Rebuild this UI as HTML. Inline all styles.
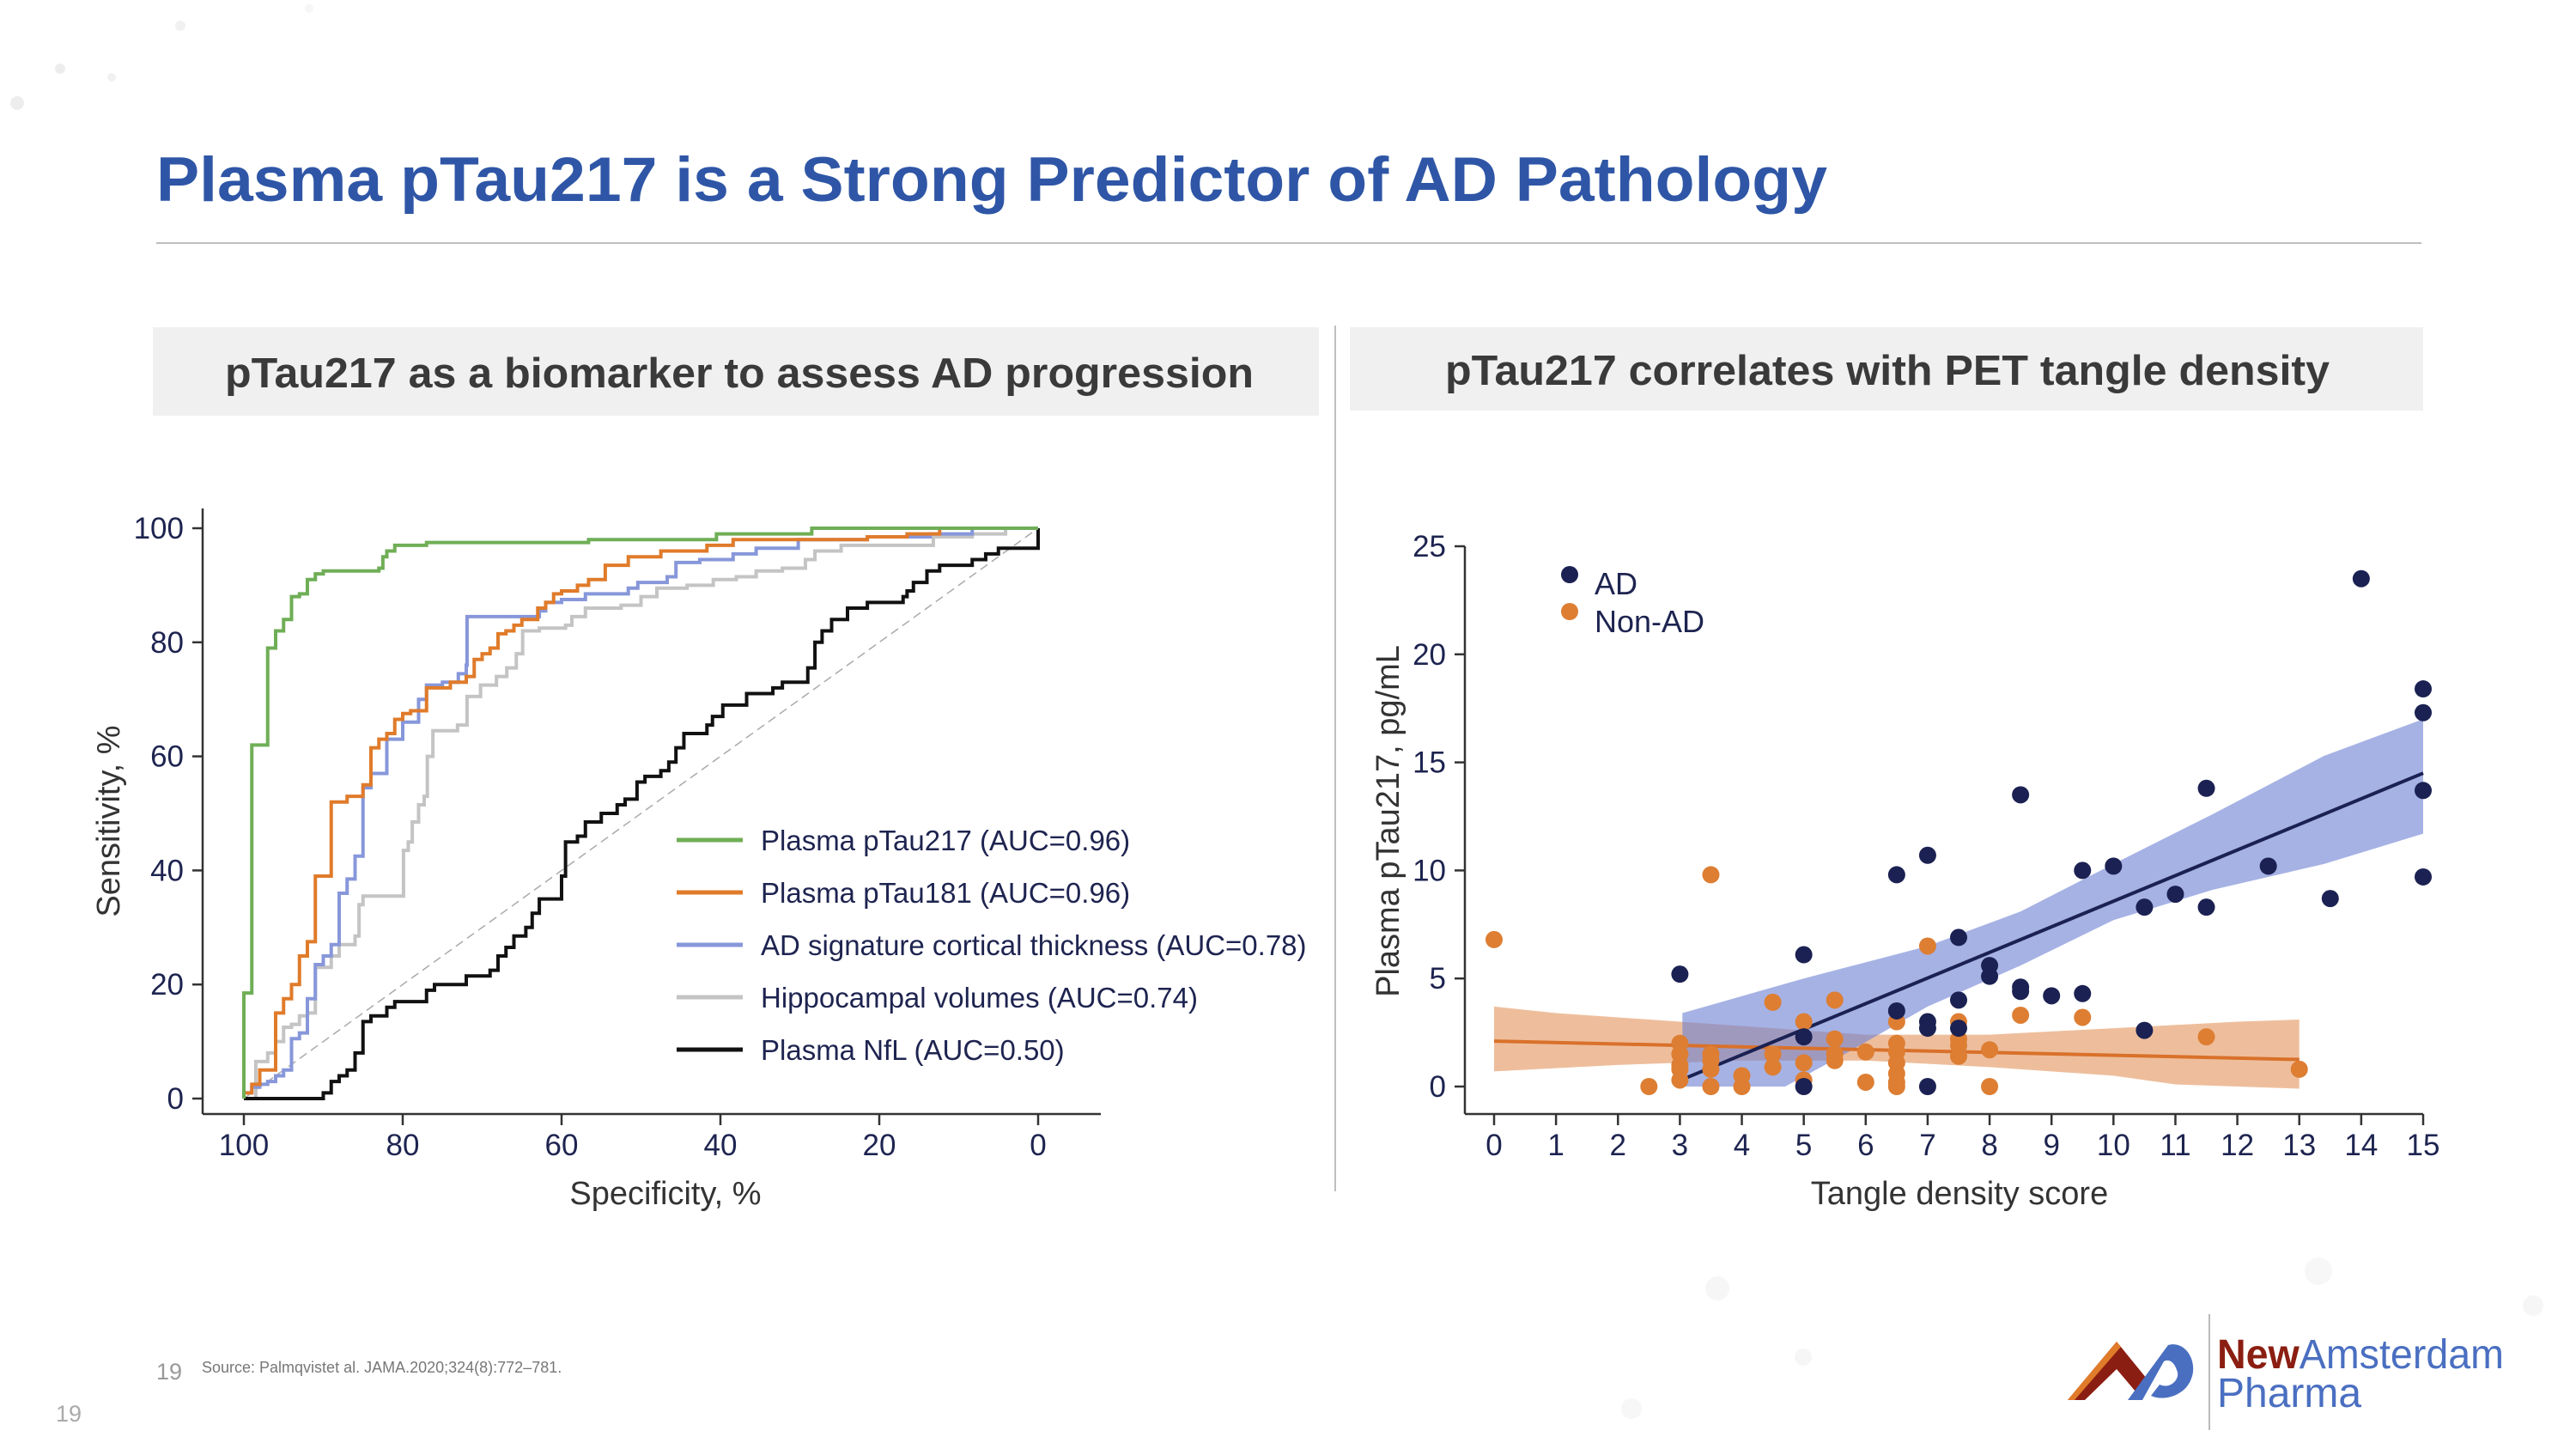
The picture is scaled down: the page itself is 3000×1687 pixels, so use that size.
<!DOCTYPE html>
<html><head><meta charset="utf-8"><style>
html,body{margin:0;padding:0;background:#fff;}
svg{display:block;font-family:"Liberation Sans",sans-serif;}
</style></head><body>
<svg id="root" width="3000" height="1687" viewBox="0 0 3000 1687" xmlns="http://www.w3.org/2000/svg">
<rect x="0" y="0" width="3000" height="1687" fill="#ffffff"/>
<g opacity="0.5">
<circle cx="20" cy="120" r="8" fill="#ddd"/><circle cx="70" cy="80" r="6" fill="#ddd"/><circle cx="130" cy="90" r="5" fill="#e4e4e4"/><circle cx="210" cy="30" r="6" fill="#e4e4e4"/><circle cx="360" cy="10" r="5" fill="#eee"/>
<circle cx="2000" cy="1500" r="14" fill="#eee"/><circle cx="2100" cy="1580" r="10" fill="#eee"/><circle cx="1900" cy="1640" r="12" fill="#efefef"/><circle cx="2700" cy="1480" r="16" fill="#f0f0f0"/><circle cx="2950" cy="1520" r="12" fill="#eee"/>
</g>
<text x="182" y="234" font-size="73" font-weight="bold" fill="#2F56A6" textLength="1946" lengthAdjust="spacingAndGlyphs">Plasma pTau217 is a Strong Predictor of AD Pathology</text>
<line x1="182" y1="283" x2="2820" y2="283" stroke="#bfbfbf" stroke-width="2"/>
<rect x="178" y="381" width="1358" height="103" fill="#F0F0F0"/>
<text x="861" y="451" font-size="49" font-weight="bold" fill="#3a3a3a" text-anchor="middle" textLength="1198" lengthAdjust="spacingAndGlyphs">pTau217 as a biomarker to assess AD progression</text>
<rect x="1572" y="381" width="1250" height="97" fill="#F0F0F0"/>
<text x="2198" y="448" font-size="49" font-weight="bold" fill="#3a3a3a" text-anchor="middle" textLength="1030" lengthAdjust="spacingAndGlyphs">pTau217 correlates with PET tangle density</text>
<line x1="1555" y1="379" x2="1555" y2="1387" stroke="#bfbfbf" stroke-width="2"/>
<g id="roc"></g>
<g id="sc"></g>
<text x="182" y="1606" font-size="27" fill="#999">19</text>
<text x="235" y="1598" font-size="18" fill="#777">Source: Palmqvistet al. JAMA.2020;324(8):772–781.</text>
<text x="65" y="1655" font-size="27" fill="#aaa">19</text>
<g>
<polygon points="2408,1630 2465,1562 2500,1605 2487,1620 2465,1594 2428,1630" fill="#8B1E12"/>
<polygon points="2408,1630 2465,1562 2470,1568 2416,1630" fill="#E07B2A"/>
<path d="M2478,1630 L2525,1566 C2545,1560 2560,1585 2552,1605 C2545,1625 2520,1632 2505,1625 L2515,1612 C2528,1618 2540,1605 2535,1595 C2532,1585 2525,1582 2520,1585 L2495,1630 Z" fill="#4A6FC1"/>
<line x1="2573" y1="1530" x2="2573" y2="1665" stroke="#bbb" stroke-width="2"/>
<text x="2582" y="1593" font-size="48" font-weight="bold" textLength="334" lengthAdjust="spacingAndGlyphs"><tspan fill="#8B1E12">New</tspan><tspan fill="#4A6FC1" font-weight="normal">Amsterdam</tspan></text>
<text x="2582" y="1638" font-size="48" fill="#4A6FC1">Pharma</text>
</g>
</svg>
<script>
const NS="http://www.w3.org/2000/svg";
// ---------- ROC data ----------
const rocNames=["Plasma pTau217 (AUC=0.96)","Plasma pTau181 (AUC=0.96)","AD signature cortical thickness (AUC=0.78)","Hippocampal volumes (AUC=0.74)","Plasma NfL (AUC=0.50)"];
const rocColors=["#6FAE56","#E07B2A","#8797DA","#C4C4C4","#111111"];
const pTau217Spec=[100,100,99,97,96,95,94,93,92,91,90,83,82.5,82,81,77,56.6,40.5,28.5,0];
const pTau217Sens=[0,18.5,62,79,82,84,88,88.5,91,92,92.5,93,95,96,97,97.5,98,99,100,100];
const pTau181Spec=[100,99,98,96,95,94,93,92,91,89,87,85,84,83,82,81,80,79,77,74,72,71,70,69,68,67,66,65,63,62,61,60,58,56.6,54.5,51.6,47.5,41.7,38.4,21.5,16.5,12.4,0];
const pTau181Sens=[1,2.5,5,15,17.5,20,25,27.5,39,52,53,55,61.5,63,64,66.5,67.5,68,72,73,74,77,78,79,81.5,82,83,84,86,87,88.5,89,90,91,93.5,95,96,97,98,98.5,99,100,100];
const cortSpec=[100,99,98,97,96,95,94,93,92,91,90,89,88,87,86,85,84,82,80,78,77,75,73,72,71.9,62.8,62,60,57,51.6,50.4,46.7,45.6,42.6,38.4,35.5,30.2,21.5,13.6,8.3,0];
const cortSens=[1,2,2.5,3,4,5,10.5,11.5,17.5,23.5,25,27,36,38.5,42.5,54.5,57,63,66,70,72.5,73,74.5,76,84.5,85.5,87,87.5,88.5,89.5,90.5,91.5,94,94.5,95.5,96.5,98,98.5,99,100,100];
const hippSpec=[100,98.5,97,96,95,94,93,92,91,89,88,86,85.5,85,79.9,79.3,78.8,78,77.3,76.9,76.2,73.1,71.9,70.2,68.2,66.9,65.7,64.9,62.8,59.5,58.7,57,52.5,50,48,44.2,40.9,38,35.5,32.2,29.3,28.1,24.8,13.2,8.3,4.1,0];
const hippSens=[0,6.5,8,10,12.5,13,14.5,15,23,25,27,28.5,34,35.5,43.5,45,48.5,51.5,53,60,64.5,65.5,70.5,72.5,74,75.5,78,82,82.5,83,84.5,86,86.5,88,89.5,90,91,91.5,92.5,93,94.5,96,97,98.5,99,100,100];
const nflSpec=[100,91,90,89,88,87,86,85,84,82,81,77,76,72,69,68,67,66,64.5,63.7,62.8,60,59.5,58,57,55,53,52,50.5,49.5,47.5,46.5,45.6,44.6,41.7,41,39.7,36.7,33.4,32.2,29,28.1,27.2,26,24,21.5,17,16.5,15.7,14,12.4,8.3,6.6,5,3,0,0];
const nflSens=[0,0,1,3,4,5,8,13.5,14.5,16,17,19,20,21.5,22.5,25,26.5,28.5,30,32.5,35,39,45,46,48.5,50,51.5,52.5,55.5,56.5,57.5,59,61.5,64,65.5,67,69,71,72,73,75.5,80,82,84,86,87,88,89,90.5,92.5,93.5,94.5,95.5,96.5,96.5,98,100];
const rocX=[100,80,60,40,20,0];
const rocY=[0,20,40,60,80,100];

// ---------- Scatter data ----------
const adX=[3,5,5,5,6.5,6.5,7,7,7,7,7.5,7.5,7.5,8,8,8.5,8.5,8.5,9,9.5,9.5,10,10.5,10.5,11,11.5,11.5,12.5,13.5,14,15,15,15,15];
const adY=[5.2,6.1,2.3,0,9.8,3.5,10.7,3,2.7,0,6.9,4,2.7,5.6,5.1,13.5,4.6,4.4,4.2,10,4.3,10.2,8.3,2.6,8.9,13.8,8.3,10.2,8.7,23.5,18.4,17.3,13.7,9.7];
const nonX=[0,2.5,3,3,3,3,3,3.5,3.5,3.5,3.5,3.5,4,4,4.5,4.5,4.5,5,5,5,5.5,5.5,5.5,5.5,6,6,6.5,6.5,6.5,6.5,6.5,6.5,6.5,7,7.5,7.5,7.5,7.5,8,8,8.5,9.5,11.5,13];
const nonY=[6.8,0,2,1.5,1,0.8,0.3,9.8,1.5,1.2,0.8,0,0.5,0,3.9,1.5,0.9,3,1.1,0.3,4,2.2,1.5,1.2,1.6,0.2,3,2,1.6,1.1,0.6,0.2,0,6.5,3,2.2,1.9,1.4,1.7,0,3.3,3.2,2.3,0.8];
const adFitX=[3.1,15];
const adFitY=[0.4,14.5];
const adBandX=[3.04,5,7,8.5,10,11.6,13.4,15];
const adBandHi=[3.4,5,6.5,8.1,10.3,12.6,15.3,17];
const adBandLoX=[3.04,4.7,5.6,7,8.5,10,11.6,13.4,15];
const adBandLo=[0,0,1.4,3.7,5.6,7.7,9.1,10.3,11.7];
const nonFitX=[0,13];
const nonFitY=[2.1,1.25];
const nonBandX=[0,1,3,5,6,7,8,10,12,13];
const nonBandHi=[3.7,3.4,3,2.6,2.4,2.4,2.4,2.7,3,3.1];
const nonBandLoX=[0,2,4,6,8,10,11,13];
const nonBandLo=[0.7,1.0,1.2,1.2,0.9,0.5,0.1,-0.1];
const scX=[0,1,2,3,4,5,6,7,8,9,10,11,12,13,14,15];
const scY=[0,5,10,15,20,25];

function mk(tag,attrs,parent){const e=document.createElementNS(NS,tag);for(const k in attrs)e.setAttribute(k,attrs[k]);parent.appendChild(e);return e;}
const txtCol="#1E2450";

// ROC axes
const rx=s=>284+(100-s)/100*(1209-284);
const ry=v=>1279-v/100*(1279-615);
const roc=document.getElementById('roc');
let e;
e=mk('line',{x1:236,y1:592,x2:236,y2:1297,stroke:"#333","stroke-width":2.5},roc);


e=mk('line',{x1:236,y1:1297,x2:1282,y2:1297,stroke:"#333","stroke-width":2.5},roc);


rocY.forEach(v=>{
  mk('line',{x1:224,y1:ry(v),x2:236,y2:ry(v),stroke:"#333","stroke-width":2.5},roc);
  e=mk('text',{x:214,y:ry(v)+12,"font-size":35,fill:txtCol,"text-anchor":"end"},roc);e.textContent=v;
  
  
});
rocX.forEach(v=>{
  mk('line',{x1:rx(v),y1:1297,x2:rx(v),y2:1310,stroke:"#333","stroke-width":2.5},roc);
  e=mk('text',{x:rx(v),y:1345,"font-size":35,fill:txtCol,"text-anchor":"middle"},roc);e.textContent=v;
  
  
});
e=mk('text',{x:775,y:1402,"font-size":38,fill:"#333","text-anchor":"middle"},roc);e.textContent="Specificity, %";


e=mk('text',{x:0,y:0,"font-size":38,fill:"#333","text-anchor":"middle",transform:"translate(139,956) rotate(-90)"},roc);e.textContent="Sensitivity, %";


e=mk('line',{x1:rx(100),y1:ry(0),x2:rx(0),y2:ry(100),stroke:"#aaa","stroke-width":1.5,"stroke-dasharray":"10,6"},roc);


const rocSeries=[[pTau217Spec,pTau217Sens],[pTau181Spec,pTau181Sens],[cortSpec,cortSens],[hippSpec,hippSens],[nflSpec,nflSens]];
const rocSeriesNames=['roc-curve-ptau217','roc-curve-ptau181','roc-curve-cortical-thickness','roc-curve-hippocampal','roc-curve-nfl'];
[3,2,1,4,0].forEach(i=>{
  const [sx,sy]=rocSeries[i];
  let d="M"+rx(sx[0])+","+ry(sy[0]);
  for(let k=1;k<sx.length;k++){d+=" H"+rx(sx[k])+" V"+ry(sy[k]);}
  e=mk('path',{d:d,fill:"none",stroke:rocColors[i],"stroke-width":4},roc);
  
  
});
const legY=[978,1039,1100,1161,1222];
rocNames.forEach((n,i)=>{
  e=mk('line',{x1:788,y1:legY[i],x2:865,y2:legY[i],stroke:rocColors[i],"stroke-width":5},roc);
  
  
  e=mk('text',{x:886,y:legY[i]+12,"font-size":33,fill:txtCol},roc);e.textContent=n;
  
  
});

// Scatter axes
const sx=v=>1740+v/15*(2822-1740);
const sy=v=>1265-v/25*(1265-636);
const sc=document.getElementById('sc');
e=mk('line',{x1:1706,y1:636,x2:1706,y2:1297,stroke:"#333","stroke-width":2.5},sc);


e=mk('line',{x1:1706,y1:1297,x2:2822,y2:1297,stroke:"#333","stroke-width":2.5},sc);


scY.forEach(v=>{
  mk('line',{x1:1694,y1:sy(v),x2:1706,y2:sy(v),stroke:"#333","stroke-width":2.5},sc);
  e=mk('text',{x:1684,y:sy(v)+12,"font-size":35,fill:txtCol,"text-anchor":"end"},sc);e.textContent=v;
  
  
});
scX.forEach(v=>{
  mk('line',{x1:sx(v),y1:1297,x2:sx(v),y2:1310,stroke:"#333","stroke-width":2.5},sc);
  e=mk('text',{x:sx(v),y:1345,"font-size":35,fill:txtCol,"text-anchor":"middle"},sc);e.textContent=v;
  
  
});
e=mk('text',{x:2282,y:1402,"font-size":38,fill:"#333","text-anchor":"middle"},sc);e.textContent="Tangle density score";


e=mk('text',{x:0,y:0,"font-size":38,fill:"#333","text-anchor":"middle",transform:"translate(1629,956) rotate(-90)"},sc);e.textContent="Plasma pTau217, pg/mL";


function band(xh,yh,xl,yl,col,op,name){
  let p=xh.map((x,i)=>sx(x)+","+sy(yh[i]));
  for(let i=xl.length-1;i>=0;i--)p.push(sx(xl[i])+","+sy(yl[i]));
  const b=mk('polygon',{points:p.join(" "),fill:col,"fill-opacity":op},sc);
  
  
}
band(nonBandX,nonBandHi,nonBandLoX,nonBandLo,"#E3925A",0.6,'non-ad-confidence-band');
band(adBandX,adBandHi,adBandLoX,adBandLo,"#7083D3",0.62,'ad-confidence-band');
e=mk('line',{x1:sx(nonFitX[0]),y1:sy(nonFitY[0]),x2:sx(nonFitX[1]),y2:sy(nonFitY[1]),stroke:"#D9712A","stroke-width":4},sc);


e=mk('line',{x1:sx(adFitX[0]),y1:sy(adFitY[0]),x2:sx(adFitX[1]),y2:sy(adFitY[1]),stroke:"#1B2152","stroke-width":4},sc);


nonX.forEach((x,i)=>{
  e=mk('circle',{cx:sx(x),cy:sy(nonY[i]),r:10,fill:"#DD7E33"},sc);
  
  
});
adX.forEach((x,i)=>{
  e=mk('circle',{cx:sx(x),cy:sy(adY[i]),r:10,fill:"#1B2152"},sc);
  
  
});
e=mk('circle',{cx:1828,cy:669,r:10,fill:"#1B2152"},sc);


e=mk('text',{x:1857,y:692,"font-size":36,fill:txtCol},sc);e.textContent="AD";


e=mk('circle',{cx:1828,cy:712,r:10,fill:"#DD7E33"},sc);


e=mk('text',{x:1857,y:736,"font-size":36,fill:txtCol},sc);e.textContent="Non-AD";


</script>
</body></html>
